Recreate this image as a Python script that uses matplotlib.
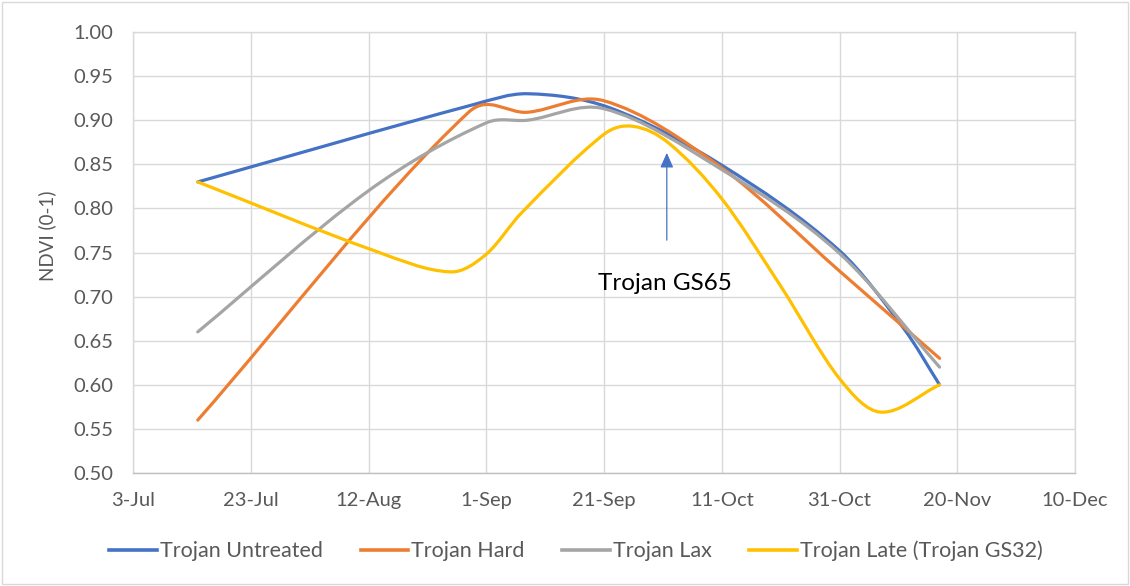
import matplotlib
matplotlib.use("Agg")
import matplotlib.pyplot as plt
import matplotlib.dates as mdates
from matplotlib.path import Path
from matplotlib.patches import PathPatch, Rectangle
import numpy as np
import pandas as pd

# ---------------- data ----------------
series_names = ["Trojan Untreated", "Trojan Hard", "Trojan Lax", "Trojan Late (Trojan GS32)"]
series_colors = ["#4472C4", "#ED7D31", "#A5A5A5", "#FFC000"]

dates_untreated = ["2019-07-14", "2019-08-30", "2019-09-08", "2019-09-22", "2019-10-11", "2019-10-31", "2019-11-11", "2019-11-17"]
ndvi_untreated = [0.83, 0.918, 0.93, 0.914, 0.849, 0.752, 0.663, 0.60]

dates_hard = ["2019-07-14", "2019-08-29", "2019-09-08", "2019-09-21", "2019-10-11", "2019-10-31", "2019-11-17"]
ndvi_hard = [0.56, 0.909, 0.909, 0.922, 0.846, 0.729, 0.63]

dates_lax = ["2019-07-14", "2019-08-12", "2019-09-01", "2019-09-08", "2019-09-21", "2019-10-11", "2019-10-31", "2019-11-17"]
ndvi_lax = [0.66, 0.82, 0.897, 0.90, 0.913, 0.844, 0.749, 0.62]

dates_late = ["2019-07-14", "2019-08-13", "2019-08-26", "2019-09-01", "2019-09-07", "2019-09-21", "2019-09-26",
              "2019-10-02", "2019-10-11", "2019-10-21", "2019-10-31", "2019-11-07", "2019-11-17"]
ndvi_late = [0.83, 0.752, 0.728, 0.748, 0.795, 0.884, 0.893, 0.874, 0.811, 0.712, 0.607, 0.569, 0.60]

x_start, x_end = "2019-07-03", "2019-12-10"
y_ticks = [0.50, 0.55, 0.60, 0.65, 0.70, 0.75, 0.80, 0.85, 0.90, 0.95, 1.00]
y_label = "NDVI (0-1)"

annot_text = "Trojan GS65"
annot_text_pos = ("2019-09-20", 0.715)
arrow_x = "2019-10-01 16:00"
arrow_y_tail, arrow_y_head = 0.764, 0.863

# ---------------- helpers ----------------
def smooth_path(xs, ys):
    """Smoothed line: piecewise cubic Bezier (Hermite in x, Catmull-Rom slopes)."""
    x = np.asarray(xs, float)
    y = np.asarray(ys, float)
    n = len(x)
    m = np.zeros(n)
    for i in range(n):
        if i == 0:
            m[i] = (y[1] - y[0]) / (x[1] - x[0])
        elif i == n - 1:
            m[i] = (y[-1] - y[-2]) / (x[-1] - x[-2])
        else:
            m[i] = (y[i + 1] - y[i - 1]) / (x[i + 1] - x[i - 1])
    verts = [(x[0], y[0])]
    codes = [Path.MOVETO]
    for i in range(n - 1):
        h = x[i + 1] - x[i]
        verts += [(x[i] + h / 3, y[i] + m[i] * h / 3),
                  (x[i + 1] - h / 3, y[i + 1] - m[i + 1] * h / 3),
                  (x[i + 1], y[i + 1])]
        codes += [Path.CURVE4] * 3
    return Path(verts, codes)

def dnum(s):
    return mdates.date2num(pd.Timestamp(s))

plt.rcParams['font.family'] = ['Lato', 'DejaVu Sans']

fig = plt.figure(figsize=(11.30, 5.86), dpi=100)
ax = fig.add_axes([133/1130, 1 - 473/586, (1075-133)/1130, (473-32)/586])

all_dates = [dates_untreated, dates_hard, dates_lax, dates_late]
all_vals = [ndvi_untreated, ndvi_hard, ndvi_lax, ndvi_late]
handles = []
for name, col, ds, vs in zip(series_names, series_colors, all_dates, all_vals):
    xs = [dnum(d) for d in ds]
    path = smooth_path(xs, vs)
    patch = PathPatch(path, facecolor='none', edgecolor=col, lw=2.3,
                      capstyle='round', joinstyle='round', zorder=3)
    ax.add_patch(patch)
    h, = ax.plot([], [], color=col, lw=2.6, label=name)
    handles.append(h)

ax.set_xlim(dnum(x_start), dnum(x_end))
ax.set_ylim(0.5, 1.0)
xt = [dnum(x_start) + 20 * k for k in range(9)]
ax.set_xticks(xt)
ax.xaxis.set_major_formatter(plt.FuncFormatter(
    lambda v, p: f"{mdates.num2date(v).day}-{mdates.num2date(v).strftime('%b')}"))
ax.set_yticks(y_ticks)
ax.yaxis.set_major_formatter(plt.FuncFormatter(lambda v, p: f"{v:.2f}"))

ax.grid(True, color='#d9d9d9', lw=1.0, zorder=0)
ax.set_axisbelow(True)
for s in ['top', 'right', 'left']:
    ax.spines[s].set_color('#d9d9d9')
    ax.spines[s].set_linewidth(1.0)
ax.spines['bottom'].set_color('#bfbfbf')
ax.spines['bottom'].set_linewidth(1.0)
ax.tick_params(axis='both', length=0, colors='#595959', labelsize=14.5)
ax.tick_params(axis='y', pad=14)
ax.tick_params(axis='x', pad=14)

fig.text(47.5/1130, 1 - 236/586, y_label, rotation=90, ha='center', va='center',
         color='#595959', fontsize=13.5)

# annotation arrow and text
ax.annotate("", xy=(dnum(arrow_x), arrow_y_head), xytext=(dnum(arrow_x), arrow_y_tail),
            arrowprops=dict(arrowstyle='-|>,head_length=0.9,head_width=0.4',
                            color='#4472C4', lw=0.9, shrinkA=0, shrinkB=0), zorder=4)
ax.text(dnum(annot_text_pos[0]), annot_text_pos[1], annot_text, ha='left', va='center',
        fontsize=17.5, color='black', zorder=4)

leg = fig.legend(handles=handles, loc='center', bbox_to_anchor=(576/1130, 1 - 551/586),
                 ncol=4, frameon=False, fontsize=15.5, handlelength=2.2,
                 handletextpad=0.15, columnspacing=1.75)
for t in leg.get_texts():
    t.set_color('#595959')

fig.patches.append(Rectangle((2/1130, 2/586), 1 - 4/1130, 1 - 4/586, transform=fig.transFigure,
                             fill=False, edgecolor='#d9d9d9', lw=1.0))

fig.savefig("out.png", dpi=100)
